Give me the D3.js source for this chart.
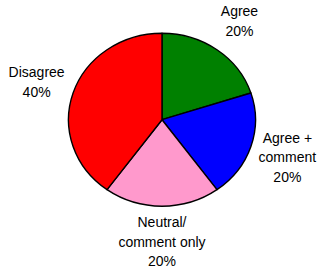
<!DOCTYPE html>
<html>
<head>
<meta charset="utf-8">
<script src="https://cdn.jsdelivr.net/npm/d3@7"></script>
<style>
  html, body { margin: 0; padding: 0; background: #fff; }
  svg { display: block; }
</style>
</head>
<body>
<svg id="chart" width="321" height="272"></svg>
<script>
const categories = ["Agree", "Agree + comment", "Neutral/ comment only", "Disagree"];
const labelLines = [["Agree"], ["Agree +", "comment"], ["Neutral/", "comment only"], ["Disagree"]];
const values = [20, 20, 20, 40];
const colors = ["#008000", "#0000FF", "#FF99CC", "#FF0000"];

const W = 321, H = 272;
const cx = 162, cy = 119.7, rx = 93.5, ry = 86.5;
const k = ry / rx;
const total = d3.sum(values);

const svg = d3.select("#chart");
const pie = d3.pie().sort(null).value(d => d.value);
const data = categories.map((c, i) => ({ cat: c, value: values[i], color: colors[i], lines: labelLines[i] }));
const arcs = pie(data);

const arc = d3.arc().innerRadius(0).outerRadius(rx);
const labelArc = d3.arc().innerRadius(rx * 1.41).outerRadius(rx * 1.41);

const g = svg.append("g").attr("transform", `translate(${cx},${cy}) scale(1,${k})`);
g.selectAll("path").data(arcs).join("path")
  .attr("d", arc)
  .attr("fill", d => d.data.color)
  .attr("stroke", "#000")
  .attr("stroke-width", 1.4)
  .attr("vector-effect", "non-scaling-stroke")
  .attr("stroke-linejoin", "round");

const fmt = d3.format(".0%");
const lineH = 19.5, capH = 10;
const lg = svg.append("g").attr("transform", `translate(${cx},${cy})`);
arcs.forEach(d => {
  const [x, y0] = labelArc.centroid(d);
  const y = y0 * k;
  const lines = d.data.lines.concat([fmt(d.value / total)]);
  const blockH = capH + (lines.length - 1) * lineH;
  const firstBase = y - blockH / 2 + capH;
  const t = lg.append("text")
    .attr("text-anchor", "middle")
    .attr("font-family", "'Liberation Sans', Arial, sans-serif")
    .attr("font-size", 14)
    .attr("fill", "#000");
  lines.forEach((ln, i) => {
    t.append("tspan").attr("x", x).attr("y", firstBase + i * lineH).text(ln);
  });
});
</script>
</body>
</html>
